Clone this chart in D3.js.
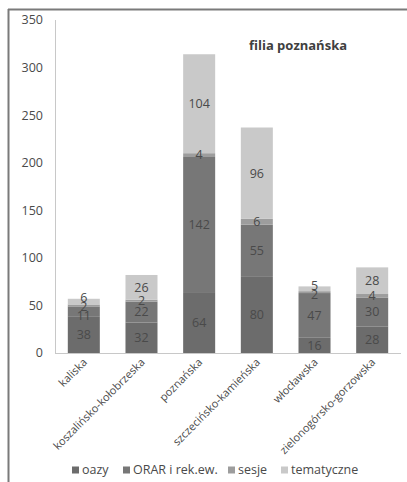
<!DOCTYPE html>
<html>
<head>
<meta charset="utf-8">
<script src="https://cdn.jsdelivr.net/npm/d3@7"></script>
<style>
  html, body { margin: 0; padding: 0; background: #fff; }
  svg { display: block; }
  text { font-family: "Open Sans", "DejaVu Sans", sans-serif; }
</style>
</head>
<body>
<script>
// Diocese groups of the Poznań branch
const categories = ["kaliska", "koszalińsko-kołobrzeska", "poznańska", "szczecińsko-kamieńska", "włocławska", "zielonogórsko-gorzowska"];
const seriesNames = ["oazy", "ORAR i rek.ew.", "sesje", "tematyczne"];
const oazy = [38, 32, 64, 80, 16, 28];
const orar = [11, 22, 142, 55, 47, 30];
const sesje = [2, 2, 4, 6, 2, 4];
const tematyczne = [6, 26, 104, 96, 5, 28];
const yTicks = [0, 50, 100, 150, 200, 250, 300, 350];
const colors = ["#6c6c6c", "#777777", "#9d9d9d", "#c9c9c9"];
const title = "filia poznańska";

const W = 407, H = 482;
const svg = d3.select("body").append("svg").attr("width", W).attr("height", H);

// frame: top and left rules
svg.append("line").attr("x1", 8).attr("x2", W).attr("y1", 9.5).attr("y2", 9.5)
  .attr("stroke", "#7a7a7a").attr("stroke-width", 2);
svg.append("line").attr("x1", 8.5).attr("x2", 8.5).attr("y1", 9).attr("y2", H)
  .attr("stroke", "#7a7a7a").attr("stroke-width", 2);

const x = d3.scaleBand().domain(categories).range([55, 401]).paddingInner(0.445).paddingOuter(0.222);
const y = d3.scaleLinear().domain([0, 350]).range([353, 20]);

const rows = categories.map((c, i) => ({ cat: c, s0: oazy[i], s1: orar[i], s2: sesje[i], s3: tematyczne[i] }));
const stack = d3.stack().keys(["s0", "s1", "s2", "s3"])(rows);

// axes lines
svg.append("line").attr("x1", 55.5).attr("x2", 55.5).attr("y1", y(350)).attr("y2", y(0))
  .attr("stroke", "#c8c8c8");
svg.append("line").attr("x1", 55).attr("x2", 401).attr("y1", y(0) + 0.5).attr("y2", y(0) + 0.5)
  .attr("stroke", "#c8c8c8");

// y tick labels
svg.append("g").selectAll("text").data(yTicks).join("text")
  .attr("x", 43).attr("y", d => y(d)).attr("dy", "0.35em")
  .attr("text-anchor", "end").attr("font-size", 12.5).attr("fill", "#4a4a4a")
  .text(d => d);

// stacked bars
const layers = svg.append("g").selectAll("g").data(stack).join("g")
  .attr("fill", (d, i) => colors[i]);
layers.selectAll("rect").data(d => d).join("rect")
  .attr("x", d => x(d.data.cat))
  .attr("width", x.bandwidth())
  .attr("y", d => y(d[1]))
  .attr("height", d => y(d[0]) - y(d[1]));

// segment value labels: centred in each segment, then spread apart
// within a bar where thin segments would stack their labels on top of each other
const minGap = 9;
const labels = svg.append("g");
categories.forEach((c, ci) => {
  const items = stack.map(layer => {
    const d = layer[ci];
    return { v: d[1] - d[0], cy: (y(d[0]) + y(d[1])) / 2 };
  });
  for (let pass = 0; pass < 20; pass++) {
    for (let k = 1; k < items.length; k++) {
      const lo = items[k - 1], hi = items[k];
      const gap = lo.cy - hi.cy;
      if (gap < minGap) {
        const push = (minGap - gap) / 2;
        lo.cy += push;
        hi.cy -= push;
      }
    }
  }
  items.forEach(it => {
    labels.append("text")
      .attr("x", x(c) + x.bandwidth() / 2)
      .attr("y", it.cy)
      .attr("dy", "0.35em")
      .attr("text-anchor", "middle")
      .attr("font-size", 12.5)
      .attr("fill", "#4a4a4a")
      .text(it.v);
  });
});

// category labels, rotated
svg.append("g").selectAll("text").data(categories).join("text")
  .attr("transform", d => `translate(${x(d) + x.bandwidth() / 2 + 4},${y(0) + 10}) rotate(-45)`)
  .attr("text-anchor", "end").attr("font-size", 11).attr("fill", "#4a4a4a")
  .text(d => d);

// title
svg.append("text").attr("x", 298).attr("y", 45).attr("dy", "0.35em")
  .attr("text-anchor", "middle").attr("font-size", 13).attr("font-weight", "bold")
  .attr("fill", "#404040").text(title);

// legend
const legendX = [72, 123, 228, 281];
const lg = svg.append("g").selectAll("g").data(seriesNames).join("g")
  .attr("transform", (d, i) => `translate(${legendX[i]},470)`);
lg.append("rect").attr("x", 0).attr("y", -3.5).attr("width", 7).attr("height", 7)
  .attr("fill", (d, i) => colors[i]);
lg.append("text").attr("x", 10).attr("y", 0).attr("dy", "0.35em")
  .attr("font-size", 12.5).attr("fill", "#4a4a4a").text(d => d);
</script>
</body>
</html>
